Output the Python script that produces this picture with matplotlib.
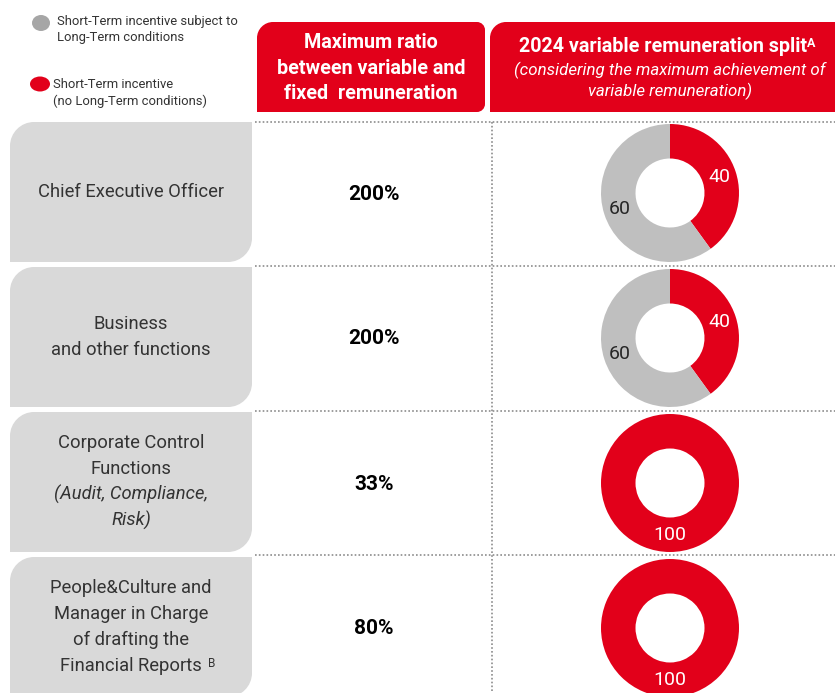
import matplotlib
matplotlib.use("Agg")
import matplotlib.pyplot as plt
from matplotlib.path import Path
from matplotlib.patches import PathPatch, Ellipse

plt.rcParams['font.family'] = ['Roboto', 'DejaVu Sans']

# data
legend_labels = ["Short-Term incentive subject to\nLong-Term conditions",
                 "Short-Term incentive\n(no Long-Term conditions)"]
col_titles = ["Maximum ratio\nbetween variable and\nfixed  remuneration",
              "2024 variable remuneration split"]
col_subtitle = "(considering the maximum achievement of\nvariable remuneration)"
roles = [
    ["Chief Executive Officer"],
    ["Business", "and other functions"],
    ["Corporate Control", "Functions", "(Audit, Compliance,", "Risk)"],
    ["People&Culture and", "Manager in Charge", "of drafting the", "Financial Reports"],
]
role_notes = ["", "", "", "B"]
max_ratio = [200, 200, 33, 80]
st_with_lt = [60, 60, 0, 0]      # grey part
st_no_lt = [40, 40, 100, 100]    # red part

RED = "#E2001A"
GREY_D = "#BFBFBF"
BOX = "#D9D9D9"
W, H = 835, 693


def round_box(x0, y0, x1, y1, tl=0, tr=0, br=0, bl=0):
    # pixel coords, y grows downwards; cubic corners
    k = 0.45
    v = [(x0 + tl, y0), (x1 - tr, y0)]
    c = [Path.MOVETO, Path.LINETO]
    if tr:
        v += [(x1 - tr * k, y0), (x1, y0 + tr * k), (x1, y0 + tr)]
        c += [Path.CURVE4] * 3
    v.append((x1, y1 - br)); c.append(Path.LINETO)
    if br:
        v += [(x1, y1 - br * k), (x1 - br * k, y1), (x1 - br, y1)]
        c += [Path.CURVE4] * 3
    v.append((x0 + bl, y1)); c.append(Path.LINETO)
    if bl:
        v += [(x0 + bl * k, y1), (x0, y1 - bl * k), (x0, y1 - bl)]
        c += [Path.CURVE4] * 3
    v.append((x0, y0 + tl)); c.append(Path.LINETO)
    if tl:
        v += [(x0, y0 + tl * k), (x0 + tl * k, y0), (x0 + tl, y0)]
        c += [Path.CURVE4] * 3
    v.append((x0 + tl, y0)); c.append(Path.CLOSEPOLY)
    return Path(v, c)


fig = plt.figure(figsize=(W / 100, H / 100), dpi=100)
ax = fig.add_axes([0, 0, 1, 1])
ax.set_xlim(0, W)
ax.set_ylim(H, 0)
ax.axis('off')

# legend
ax.add_patch(Ellipse((41, 23), 18, 16, color="#A6A6A6", lw=0))
ax.add_patch(Ellipse((40, 84), 20, 15, color=RED, lw=0))
ax.text(57, 30, legend_labels[0], fontsize=9.4, color="#333333", va='center',
        linespacing=1.3)
ax.text(53, 93, legend_labels[1], fontsize=9.4, color="#333333", va='center',
        linespacing=1.3)

# header boxes
ax.add_patch(PathPatch(round_box(257, 22, 485, 112, tl=16, tr=8, br=8), fc=RED, lw=0))
ax.add_patch(PathPatch(round_box(490, 22, 840, 112, tl=16), fc=RED, lw=0))
ax.text(371, 68, col_titles[0], fontsize=14.2, weight='bold', color='white',
        ha='center', va='center', linespacing=1.45)
t = ax.text(663, 46, col_titles[1], fontsize=14.2, weight='bold', color='white',
            ha='center', va='center')
ax.annotate("A", xy=(1, 0.95), xycoords=t, fontsize=9, weight='bold',
            color='white', ha='left', va='top')
ax.text(670, 81, col_subtitle, fontsize=12.2, style='italic', color='white',
        ha='center', va='center', linespacing=1.28)

# grid lines (dotted)
row_top = [122, 267, 412, 557]
row_h = 140
for y in [122, 266, 411, 555]:
    ax.plot([255, W], [y, y], color="#8C8C8C", lw=1.2, ls=(0, (1, 1.3)))
ax.plot([492, 492], [122, H], color="#8C8C8C", lw=1.2, ls=(0, (1, 1.3)))

line_step = 25.8
for i, lines in enumerate(roles):
    y0 = row_top[i]
    ax.add_patch(PathPatch(round_box(10, y0, 252, y0 + row_h, tl=24, br=24),
                           fc=BOX, lw=0))
    cy = y0 + row_h / 2
    n = len(lines)
    for j, line in enumerate(lines):
        ly = cy + (j - (n - 1) / 2) * line_step
        italic = line.startswith('(') or line.endswith(')')
        tt = ax.text(131, ly, line, fontsize=13.2, color="#333333", ha='center',
                     va='center', style='italic' if italic else 'normal')
        if j == n - 1 and role_notes[i]:
            ax.annotate(role_notes[i], xy=(1.04, 1.0), xycoords=tt, fontsize=8.5,
                        color="#333333", ha='left', va='top')
    ax.text(374, cy + 2, f"{max_ratio[i]}%", fontsize=15, weight='bold',
            color='black', ha='center', va='center')

    # donut
    r = 69
    cx = 670
    pa = fig.add_axes([(cx - r) / W, 1 - (cy + 1 + r) / H, 2 * r / W, 2 * r / H])
    vals, cols, tcols = [], [], []
    for v, c, tc in [(st_no_lt[i], RED, 'white'), (st_with_lt[i], GREY_D, '#262626')]:
        if v > 0:
            vals.append(v); cols.append(c); tcols.append(tc)
    wedges, texts, autotexts = pa.pie(vals, colors=cols, startangle=90,
                                      counterclock=False, radius=1,
                                      wedgeprops=dict(width=0.5, lw=0),
                                      autopct=lambda p: f"{p:.0f}",
                                      pctdistance=0.76,
                                      textprops=dict(fontsize=14))
    for at, tc in zip(autotexts, tcols):
        at.set_color(tc)
    pa.set_xlim(-1, 1)
    pa.set_ylim(-1, 1)
    pa.set_aspect('auto')
    pa.axis('off')

fig.savefig("out.png", dpi=100)
